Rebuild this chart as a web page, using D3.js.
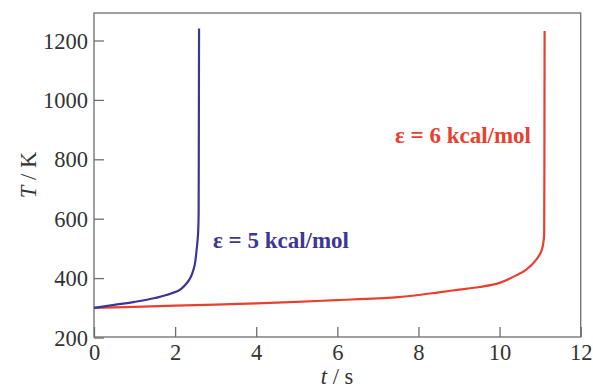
<!DOCTYPE html>
<html>
<head>
<meta charset="utf-8">
<script src="https://cdn.jsdelivr.net/npm/d3@7"></script>
<style>
  html, body { margin: 0; padding: 0; background: #fff; }
  svg { display: block; }
  text { font-family: "Liberation Serif", "Times New Roman", serif; }
</style>
</head>
<body>
<svg id="chart" width="593" height="389"></svg>
<script>
// Temperature vs. time for two activation energies
const eps5Time = [0, 0.5, 1.0, 1.5, 1.9, 2.15, 2.28, 2.38, 2.45, 2.50, 2.53, 2.555, 2.57, 2.58, 2.585, 2.59];
const eps5Temp = [300, 310, 320, 333, 348, 364, 382, 402, 427, 458, 495, 530, 562, 620, 900, 1240];

const eps6Time = [0, 1, 2, 3, 4, 5, 6, 7, 7.5, 8, 8.5, 9, 9.5, 10, 10.42, 10.65, 10.83, 10.97, 11.04, 11.08, 11.10, 11.105, 11.11];
const eps6Temp = [300, 303, 307, 311, 315, 320, 326, 332, 336, 343, 352, 361, 370, 384, 410, 428, 450, 475, 495, 520, 548, 800, 1232];

const xTicks = [0, 2, 4, 6, 8, 10, 12];
const yTicks = [200, 400, 600, 800, 1000, 1200];

const seriesLabels = ["ε = 5 kcal/mol", "ε = 6 kcal/mol"];
const seriesColors = ["#3d3793", "#e8402f"];

const svg = d3.select("#chart");
const plotL = 94, plotR = 580.7, plotT = 13, plotB = 337;

const x = d3.scaleLinear().domain([0, 12]).range([plotL, plotR]);
const y = d3.scaleLinear().domain([200, 1200]).range([337.5, 40.5]);

const frameColor = "#6e6e6e";
const textColor = "#333";
const tickFont = 22.5;

// frame
svg.append("rect")
  .attr("x", plotL).attr("y", plotT)
  .attr("width", plotR - plotL).attr("height", plotB - plotT)
  .attr("fill", "none").attr("stroke", frameColor).attr("stroke-width", 1.3);

// bottom axis, ticks pointing inward
const xAxis = svg.append("g").attr("transform", `translate(0,${plotB})`)
  .call(d3.axisBottom(x).tickValues(xTicks).tickSizeInner(-10).tickSizeOuter(0).tickFormat(d3.format("d")));
xAxis.select(".domain").remove();
xAxis.selectAll(".tick line").attr("stroke", frameColor).attr("stroke-width", 1.3);
xAxis.selectAll(".tick text").attr("fill", textColor).attr("font-size", tickFont)
  .attr("y", 0).attr("dy", "1.03em");

// left axis, ticks pointing inward
const yAxis = svg.append("g").attr("transform", `translate(${plotL},0)`)
  .call(d3.axisLeft(y).tickValues(yTicks).tickSizeInner(-10).tickSizeOuter(0).tickFormat(d3.format("d")));
yAxis.select(".domain").remove();
yAxis.selectAll(".tick line").attr("stroke", frameColor).attr("stroke-width", 1.3);
yAxis.selectAll(".tick text").attr("fill", textColor).attr("font-size", tickFont)
  .attr("x", -6).attr("dy", "0.34em");

// axis titles
const yTitle = svg.append("text")
  .attr("transform", "translate(36,175) rotate(-90)")
  .attr("text-anchor", "middle").attr("fill", textColor).attr("font-size", tickFont);
yTitle.append("tspan").attr("font-style", "italic").text("T");
yTitle.append("tspan").text(" / K");

const xTitle = svg.append("text")
  .attr("x", 337).attr("y", 384)
  .attr("text-anchor", "middle").attr("fill", textColor).attr("font-size", tickFont);
xTitle.append("tspan").attr("font-style", "italic").text("t");
xTitle.append("tspan").text(" / s");

// curves
const line = d3.line().x(d => x(d[0])).y(d => y(d[1])).curve(d3.curveMonotoneX);
const series = [d3.zip(eps5Time, eps5Temp), d3.zip(eps6Time, eps6Temp)];

svg.append("g").selectAll("path").data([series[1], series[0]]).join("path")
  .attr("d", line)
  .attr("fill", "none")
  .attr("stroke", (d, i) => i === 0 ? seriesColors[1] : seriesColors[0])
  .attr("stroke-width", 2.2)
  .attr("stroke-linejoin", "round");

// curve labels
svg.append("text").attr("x", 213).attr("y", 248)
  .attr("fill", seriesColors[0]).attr("font-size", 23).attr("font-weight", "bold")
  .text(seriesLabels[0]);
svg.append("text").attr("x", 395).attr("y", 143)
  .attr("fill", seriesColors[1]).attr("font-size", 23).attr("font-weight", "bold")
  .text(seriesLabels[1]);
</script>
</body>
</html>
